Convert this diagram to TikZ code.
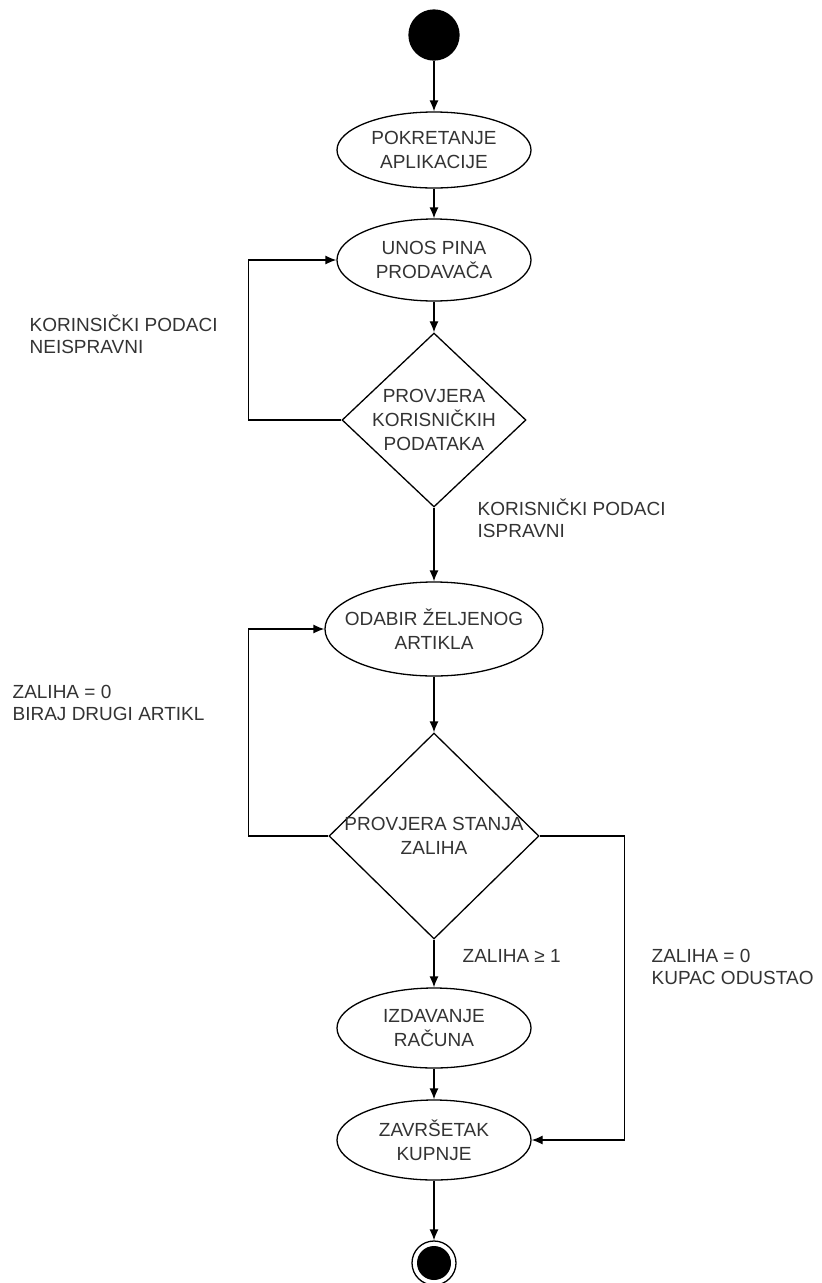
\documentclass[tikz,border=0pt]{standalone}
\usepackage{fontspec}
\setmainfont{Liberation Sans}
\usetikzlibrary{positioning}
\usetikzlibrary{shapes.geometric}
\usetikzlibrary{arrows.meta}
\tikzstyle{actnode} = [draw, ellipse, minimum width=194pt, minimum height=80pt, inner sep=0pt]
\tikzstyle{decnode} = [draw, diamond, inner sep=0pt]
\tikzstyle{txt} = [text=black!80, align=center, font=\fontsize{19}{24}\selectfont]
\tikzstyle{guard} = [text=black!80, align=left, anchor=west, inner sep=0pt, font=\fontsize{19}{22}\selectfont]

\begin{document}
\begin{tikzpicture}[x=1pt, y=-1pt, line width=1.3pt, >={Latex[length=11pt,width=9pt]}]
  \useasboundingbox (0,0) rectangle (822,1283);

  \node[draw, circle, fill=black, minimum size=50pt, inner sep=0pt] (start) at (434,35) {};
  \node[actnode, minimum height=76pt, label={[txt]center:POKRETANJE\\APLIKACIJE}] (launch) at (434,150) {};
  \node[actnode, minimum height=82pt, label={[txt]center:UNOS PINA\\PRODAVAČA}] (pin) at (434,260) {};
  \node[decnode, minimum width=184pt, minimum height=174pt, label={[txt]center:PROVJERA\\KORISNIČKIH\\PODATAKA}] (checkuser) at (434,420) {};
  \node[actnode, minimum width=218pt, minimum height=94pt, label={[txt]center:ODABIR ŽELJENOG\\ARTIKLA}] (choose) at (434,629) {};
  \node[decnode, minimum width=210pt, minimum height=206pt, label={[txt]center:PROVJERA STANJA\\ZALIHA}] (checkstock) at (434,836) {};
  \node[actnode, label={[txt]center:IZDAVANJE\\RAČUNA}] (invoice) at (434,1028) {};
  \node[actnode, label={[txt]center:ZAVRŠETAK\\KUPNJE}] (finish) at (434,1140) {};
  \node[draw, circle, minimum size=44pt, inner sep=0pt,
        path picture={\fill (path picture bounding box.center) circle (17pt);}] (final) at (434,1263) {};

  \node[guard] (baduser) at (29,334) {KORINSIČKI PODACI\\NEISPRAVNI};
  \node[guard] (gooduser) at (477,518) {KORISNIČKI PODACI\\ISPRAVNI};
  \node[guard] (retry) at (12,703) {ZALIHA = 0\\BIRAJ DRUGI ARTIKL};
  \node[guard] (instock) at (462,956) {ZALIHA ≥ 1};
  \node[guard] (quit) at (651,967) {ZALIHA = 0\\KUPAC ODUSTAO};

  \draw[->] (start) -- (launch);
  \draw[->] (launch) -- (pin);
  \draw[->] (pin) -- (checkuser);
  \draw[->] (checkuser.west) -- ++(-93,0) |- (pin.west);
  \draw[->] (checkuser) -- (choose);
  \draw[->] (choose) -- (checkstock);
  \draw[->] (checkstock.west) -- ++(-80,0) |- (choose.west);
  \draw[->] (checkstock) -- (invoice);
  \draw[->] (checkstock.east) -- ++(85,0) |- (finish.east);
  \draw[->] (invoice) -- (finish);
  \draw[->] (finish) -- (final);
\end{tikzpicture}
\end{document}
